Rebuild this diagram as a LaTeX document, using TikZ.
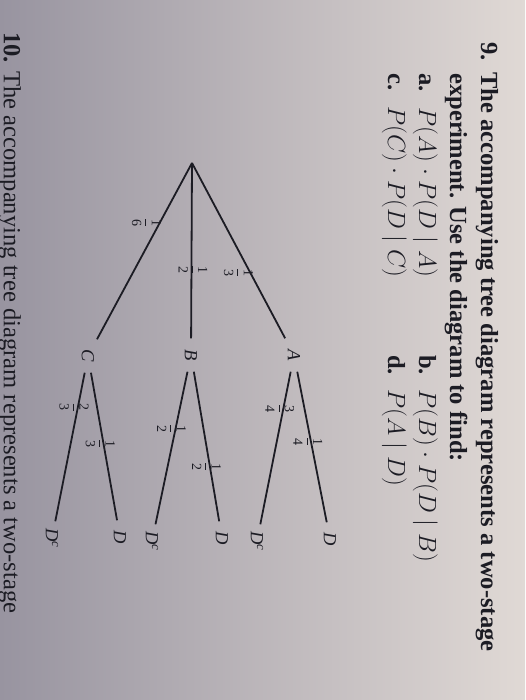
\documentclass[tikz,border=0pt]{standalone}
\usepackage{amsmath}
\usepackage{fontspec}
\setmainfont{Liberation Serif}

\definecolor{inkc}{RGB}{28,28,36}
\definecolor{bgl}{RGB}{152,148,160}
\definecolor{bgm}{RGB}{212,205,204}
\definecolor{bgr}{RGB}{224,217,213}

\newcommand{\fr}[2]{$\dfrac{\text{#1}}{\text{#2}}$}

\begin{document}
\begin{tikzpicture}[x=1pt, y=-1pt,
		ink/.style={draw=inkc, line width=1.8pt},
		txt/.style={rotate=-90, anchor=base west, inner sep=0pt, text=inkc, font=\fontsize{24.6}{30}\selectfont},
		vtx/.style={rotate=-90, inner sep=0pt, minimum width=33pt, minimum height=20pt, text=inkc, font=\fontsize{18.5}{20}\selectfont\itshape},
		frac/.style={rotate=-90, inner sep=0pt, text=inkc, font=\fontsize{14}{16}\selectfont}]
			\shade[left color=bgl, middle color=bgm, right color=bgr] (0,0) rectangle (525,700);
			\useasboundingbox (0,0) rectangle (525,700);

			\node[txt] (n9) at (481,42) {\bfseries 9.};
			\node[txt] (l1) at (481,72) {\bfseries The accompanying tree diagram represents a two-stage};
			\node[txt] (l2) at (450,73) {\bfseries experiment. Use the diagram to find:};
			\node[txt] (qa) at (419,73) {\textbf{a.}\hspace{0.65em}$P(A)\cdot P(D\mid A)$};
			\node[txt] (qb) at (419,355) {\textbf{b.}\hspace{0.6em}$P(B)\cdot P(D\mid B)$};
			\node[txt] (qc) at (388,73) {\textbf{c.}\hspace{0.65em}$P(C)\cdot P(D\mid C)$};
			\node[txt] (qd) at (388,355) {\textbf{d.}\hspace{0.6em}$P(A\mid D)$};
			\node[txt] (n10) at (4,32) {\textbf{10.} The accompanying tree diagram represents a two-stage};

			\coordinate (root) at (192,163);
			\node[vtx] (A) at (294,355) {A};
			\node[vtx] (B) at (191,355) {B};
			\node[vtx] (C) at (88,356) {C};
			\node[vtx] (AD) at (330,539) {D};
			\node[vtx] (ADc) at (257,541) {D\textsuperscript{c}};
			\node[vtx] (BD) at (222,538) {D};
			\node[vtx] (BDc) at (152,541) {D\textsuperscript{c}};
			\node[vtx] (CD) at (120,537) {D};
			\node[vtx] (CDc) at (52,538) {D\textsuperscript{c}};

			\draw[ink] (root) edge node[frac, xshift=22pt] {\fr{1}{3}} (A)
			(root) edge node[frac, xshift=19pt, yshift=1.5pt] {\fr{1}{2}} (B)
			(root) edge node[frac, xshift=-28.5pt, yshift=2pt] {\fr{1}{6}} (C)
			(A) edge node[frac, pos=.36, xshift=16pt] {\fr{1}{4}} (AD)
			(A) edge node[frac, pos=.36, xshift=-18pt] {\fr{3}{4}} (ADc)
			(B) edge node[frac, xshift=20pt] {\fr{1}{2}} (BD)
			(B) edge node[frac, xshift=-19.5pt] {\fr{1}{2}} (BDc)
			(C) edge node[frac, pos=.36, xshift=18pt] {\fr{1}{3}} (CD)
			(C) edge node[frac, pos=.36, xshift=-19pt] {\fr{2}{3}} (CDc);

		\end{tikzpicture}
\end{document}
